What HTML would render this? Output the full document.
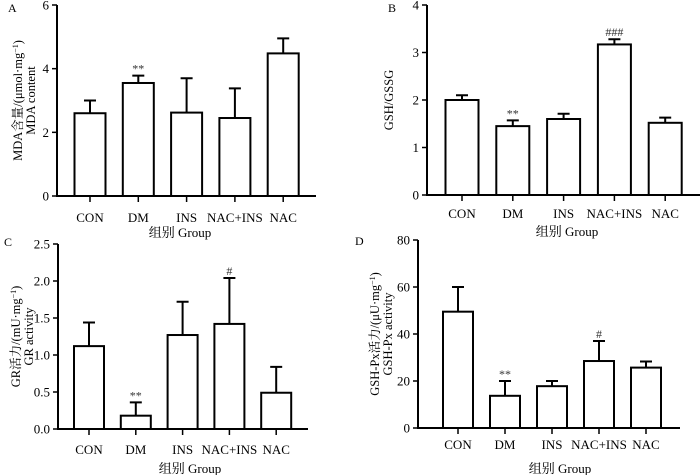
<!DOCTYPE html>
<html><head><meta charset="utf-8"><style>
html,body{margin:0;padding:0;background:#fff;}
svg{display:block;font-family:"Liberation Serif","Noto Serif CJK SC",serif;}
</style></head><body>
<svg id="fig" width="700" height="475" viewBox="0 0 700 475"></svg>
<script>
const categories = ["CON","DM","INS","NAC+INS","NAC"];
const mdaValues = [2.6,3.55,2.62,2.45,4.48];
const mdaErr = [3.0,3.78,3.7,3.38,4.95];
const mdaMarks = ["","**","","",""];
const mdaTicks = [0,2,4,6];
const gshValues = [2.0,1.45,1.6,3.17,1.52];
const gshErr = [2.1,1.57,1.71,3.28,1.63];
const gshMarks = ["","**","","###",""];
const gshTicks = [0,1,2,3,4];
const grValues = [1.12,0.18,1.27,1.42,0.49];
const grErr = [1.44,0.36,1.72,2.04,0.84];
const grMarks = ["","**","","#",""];
const grTicks = ["0.0","0.5","1.0","1.5","2.0","2.5"];
const gpxValues = [49.5,13.7,17.8,28.5,25.7];
const gpxErr = [60,20,20,37,28.3];
const gpxMarks = ["","**","","#",""];
const gpxTicks = [0,20,40,60,80];

const NS="http://www.w3.org/2000/svg";
const svg=document.getElementById('fig');
function mk(tag,attrs,parent){const e=document.createElementNS(NS,tag);for(const k in attrs)e.setAttribute(k,attrs[k]);(parent||svg).appendChild(e);return e;}

function panel(p){
  const g=mk('g',{});
  
  
  const ymax=parseFloat(p.ticks[p.ticks.length-1]);
  const y=v=>p.y0-(v/ymax)*(p.y0-p.yTop);
  const x=i=>p.xc0+i*p.step;
  categories.forEach((c,i)=>{
    const b=mk('rect',{x:x(i)-p.bw/2,y:y(p.vals[i]),width:p.bw,height:p.y0-y(p.vals[i]),fill:'#fff',stroke:'#000','stroke-width':2},g);
    
    
    const e=mk('path',{d:`M${x(i)} ${y(p.vals[i])}V${y(p.err[i])}M${x(i)-6} ${y(p.err[i])}H${x(i)+6}`,stroke:'#000','stroke-width':2,fill:'none'},g);
    
    
    if(p.marks[i]){
      const t=mk('text',{x:x(i),y:y(p.err[i])-3,'text-anchor':'middle','font-size':12,fill:'#333'},g);
      t.textContent=p.marks[i];
      
      
    }
    mk('line',{x1:x(i),x2:x(i),y1:p.y0,y2:p.y0+6,stroke:'#000','stroke-width':1.5},g);
    const l=mk('text',{x:x(i),y:p.labY,'text-anchor':'middle','font-size':13},g);
    l.textContent=c;
    
    
  });
  const ax=mk('path',{d:`M${p.ax} ${p.yTop}V${p.y0}H${p.xEnd}`,stroke:'#000','stroke-width':2,fill:'none'},g);
  
  
  p.ticks.forEach(tv=>{
    const yy=y(parseFloat(tv));
    mk('line',{x1:p.ax-5,x2:p.ax,y1:yy,y2:yy,stroke:'#000','stroke-width':1.5},g);
    const t=mk('text',{x:p.ax-8,y:yy+4.5,'text-anchor':'end','font-size':13},g);
    t.textContent=tv;
    
    
  });
  const gt=mk('text',{x:p.gx,y:p.gy,'text-anchor':'middle','font-size':13},g);
  gt.textContent='组别  Group';
  
  
  p.ytitle.forEach((s,k)=>{
    const cx=p.ytx+k*13, cy=(p.yTop+p.y0)/2;
    const t=mk('text',{x:cx,y:cy,'text-anchor':'middle','font-size':12.5,transform:`rotate(-90 ${cx} ${cy})`},g);
    t.innerHTML=s;
    
    
  });
  const L=mk('text',{x:p.lx,y:p.ly,'font-size':12},g);
  L.textContent=p.letter;
  
  
}
panel({name:'panel-a-mda',vals:mdaValues,err:mdaErr,marks:mdaMarks,ticks:mdaTicks,ax:57,yTop:5,y0:196,xEnd:316,xc0:90,step:48.3,bw:31,labY:222,gx:180,gy:237,ytx:22,ytitle:['MDA含量/(μmol·mg<tspan font-size="8" dy="-4">−1</tspan><tspan dy="4">)</tspan>','MDA content'],letter:'A',lx:8,ly:12});
panel({name:'panel-b-gsh-gssg',vals:gshValues,err:gshErr,marks:gshMarks,ticks:gshTicks,ax:427,yTop:5,y0:195,xEnd:700,xc0:462,step:50.8,bw:33,labY:218,gx:567,gy:236,ytx:393,ytitle:['GSH/GSSG'],letter:'B',lx:388,ly:12});
panel({name:'panel-c-gr',vals:grValues,err:grErr,marks:grMarks,ticks:grTicks,ax:58,yTop:244,y0:429,xEnd:308,xc0:89,step:46.8,bw:30,labY:454,gx:190,gy:473,ytx:20,ytitle:['GR活力/(mU·mg<tspan font-size="8" dy="-4">−1</tspan><tspan dy="4">)</tspan>','GR activity'],letter:'C',lx:4,ly:246});
panel({name:'panel-d-gsh-px',vals:gpxValues,err:gpxErr,marks:gpxMarks,ticks:gpxTicks,ax:418,yTop:240,y0:428,xEnd:680,xc0:458,step:47,bw:30,labY:449,gx:560,gy:473,ytx:379,ytitle:['GSH-Px活力/(μU·mg<tspan font-size="8" dy="-4">−1</tspan><tspan dy="4">)</tspan>','GSH-Px activity'],letter:'D',lx:355,ly:245});
</script>
</body></html>
